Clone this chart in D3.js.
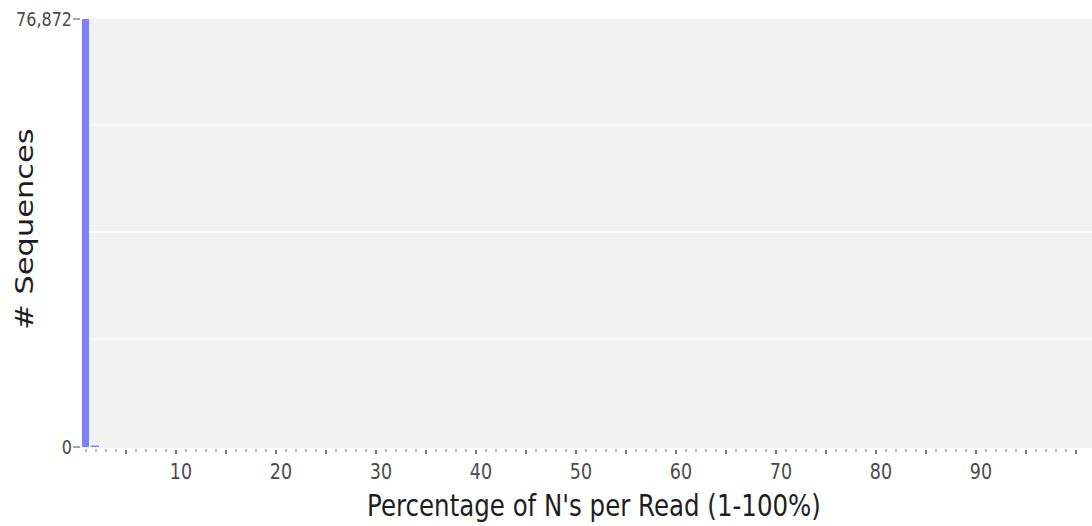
<!DOCTYPE html>
<html>
<head>
<meta charset="utf-8">
<script src="https://cdn.jsdelivr.net/npm/d3@7"></script>
<style>
  html, body { margin: 0; padding: 0; background: #fff; }
  svg { display: block; }
  text { font-family: "DejaVu Sans", sans-serif; }
</style>
</head>
<body>
<svg id="chart" width="1092" height="526"></svg>
<script>
// Percentage of N's per read: bins 1..100, counts of reads in each bin
const bins = d3.range(1, 101);
const nonZeroBins = [1, 2];
const nonZeroCounts = [76872, 150];
const yTickValues = [0, 76872];
const xTickLabels = [10, 20, 30, 40, 50, 60, 70, 80, 90];

const counts = bins.map(b => {
  const i = nonZeroBins.indexOf(b);
  return i >= 0 ? nonZeroCounts[i] : 0;
});

const plot = { left: 82, right: 1092, top: 19, bottom: 447 };
const textStretch = 1.22; // glyphs are drawn taller than they are wide

const svg = d3.select("#chart");

const x = d3.scaleBand().domain(bins).range([81, 1081]).padding(0);
const y = d3.scaleLinear().domain([0, d3.max(yTickValues)]).range([plot.bottom, plot.top]);

// plot background
svg.append("rect")
  .attr("x", plot.left).attr("y", plot.top)
  .attr("width", plot.right - plot.left).attr("height", plot.bottom - plot.top + 1)
  .attr("fill", "#f2f2f2");

// horizontal grid at quarters of the range
const maxV = d3.max(yTickValues);
svg.append("g").selectAll("line")
  .data([0.25, 0.5, 0.75].map(f => f * maxV))
  .join("line")
  .attr("x1", plot.left).attr("x2", plot.right)
  .attr("y1", d => y(d) - 1).attr("y2", d => y(d) - 1)
  .attr("stroke", "#fafafa").attr("stroke-width", 2);

// bars
svg.append("defs").append("clipPath").attr("id", "plotClip")
  .append("rect").attr("x", plot.left).attr("y", plot.top - 1)
  .attr("width", plot.right - plot.left).attr("height", plot.bottom - plot.top + 2);

svg.append("g").attr("clip-path", "url(#plotClip)")
  .selectAll("rect")
  .data(bins.filter((b, i) => counts[i] > 0))
  .join("rect")
  .attr("x", d => x(d))
  .attr("width", x.bandwidth() - 2)
  .attr("y", d => Math.min(y(counts[d - 1]), plot.bottom - 1.5))
  .attr("height", d => Math.max(plot.bottom - y(counts[d - 1]), 1.5))
  .attr("fill", "#8080ff");

// x axis: one small tick per bin, bigger tick every 5
svg.append("g").selectAll("line")
  .data(bins)
  .join("line")
  .attr("x1", d => x(d) + x.bandwidth() / 2)
  .attr("x2", d => x(d) + x.bandwidth() / 2)
  .attr("y1", d => d % 5 === 0 ? 450 : 449)
  .attr("y2", d => d % 5 === 0 ? 454 : 452)
  .attr("stroke", d => d % 5 === 0 ? "#777" : "#999")
  .attr("stroke-width", d => d % 5 === 0 ? 2 : 1.3);

svg.append("g").selectAll("text")
  .data(xTickLabels)
  .join("text")
  .attr("transform", d => `translate(${x(d) + x.bandwidth() / 2 + 5},479) scale(1,${textStretch})`)
  .attr("text-anchor", "middle")
  .attr("font-size", 17.5)
  .attr("fill", "#4a4a4a")
  .text(d => d);

// y axis ticks and labels
const yAxis = svg.append("g");
yAxis.selectAll("line")
  .data(yTickValues)
  .join("line")
  .attr("x1", 73).attr("x2", 80)
  .attr("y1", d => y(d)).attr("y2", d => y(d))
  .attr("stroke", "#666").attr("stroke-width", 1.2);
yAxis.selectAll("text")
  .data(yTickValues)
  .join("text")
  .attr("transform", d => `translate(72,${y(d) + 6.5}) scale(1,${textStretch})`)
  .attr("text-anchor", "end")
  .attr("font-size", 16)
  .attr("fill", "#4a4a4a")
  .text(d => d3.format(",")(d));

// axis titles
svg.append("text")
  .attr("transform", `translate(594,516) scale(1,${textStretch})`)
  .attr("text-anchor", "middle")
  .attr("font-size", 24.5)
  .attr("fill", "#1e1e1e")
  .text("Percentage of N's per Read (1-100%)");

svg.append("text")
  .attr("transform", `translate(33,229) scale(1,${textStretch}) rotate(-90)`)
  .attr("text-anchor", "middle")
  .attr("font-size", 25)
  .attr("fill", "#1e1e1e")
  .text("# Sequences");
</script>
</body>
</html>
